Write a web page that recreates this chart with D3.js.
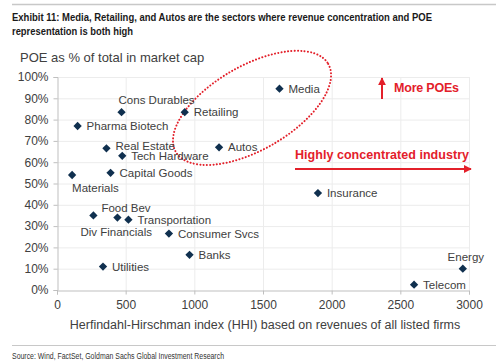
<!DOCTYPE html>
<html>
<head>
<meta charset="utf-8">
<script src="https://cdn.jsdelivr.net/npm/d3@7"></script>
<style>
    body { margin: 0; background: #fff; }
    svg { display: block; }
    .narrow { font-family: "Liberation Sans Narrow", "Arial Narrow", "Liberation Sans", sans-serif; }
    .lbl { font-family: "Liberation Sans", Arial, sans-serif; font-size: 11.5px; fill: #404040; }
</style>
</head>
<body>
<div id="chart"></div>
<script>
// sectors, HHI (x) and POE share in % (y)
const sectors = ['Media', 'Retailing', 'Cons Durables', 'Pharma Biotech', 'Real Estate', 'Tech Hardware', 'Autos',
    'Capital Goods', 'Materials', 'Food Bev', 'Div Financials', 'Transportation', 'Consumer Svcs', 'Banks',
    'Utilities', 'Insurance', 'Energy', 'Telecom'];
const hhi = [1620, 930, 470, 150, 360, 475, 1180, 390, 110, 265, 440, 520, 815, 965, 335, 1900, 2955, 2600];
const poe = [94.5, 83.5, 83.5, 77, 66.5, 63, 67, 55, 54, 35, 34, 33, 26.5, 16.5, 11, 45.5, 10, 2.5];
// where the label sits relative to its marker
const labelSide = ['right', 'right', 'aboveright', 'right', 'rightup', 'right', 'right',
    'right', 'below', 'above', 'belowleft', 'right', 'right', 'right',
    'right', 'right', 'abovecenter', 'right'];

const xTicks = [0, 500, 1000, 1500, 2000, 2500, 3000];
const yTicks = [0, 10, 20, 30, 40, 50, 60, 70, 80, 90, 100];

const W = 500, H = 364;
const RED = '#e3202a', NAVY = '#10304f';

const svg = d3.select('#chart').append('svg').attr('width', W).attr('height', H);

const x = d3.scaleLinear().domain([0, 3000]).range([57, 469]);
const y = d3.scaleLinear().domain([0, 100]).range([290, 77]);

// header
svg.append('line').attr('x1', 12).attr('x2', 496).attr('y1', 4.5).attr('y2', 4.5)
    .attr('stroke', '#c8c8c8').attr('stroke-width', 1.5);
svg.append('text').attr('class', 'narrow')
    .attr('x', 12).attr('y', 21).style('font-size', '11px').style('font-weight', 'bold').attr('fill', '#1a1a1a')
    .attr('textLength', 420).attr('lengthAdjust', 'spacingAndGlyphs')
    .text('Exhibit 11: Media, Retailing, and Autos are the sectors where revenue concentration and POE');
svg.append('text').attr('class', 'narrow')
    .attr('x', 12).attr('y', 35).style('font-size', '11px').style('font-weight', 'bold').attr('fill', '#1a1a1a')
    .attr('textLength', 121).attr('lengthAdjust', 'spacingAndGlyphs')
    .text('representation is both high');

svg.append('text').attr('class', 'lbl').attr('x', 20).attr('y', 62)
    .style('font-size', '13px').text('POE as % of total in market cap');

// grid
svg.append('g').selectAll('line.h').data(yTicks.slice(1)).join('line')
    .attr('x1', x(0)).attr('x2', x(3000)).attr('y1', d => y(d) + .5).attr('y2', d => y(d) + .5)
    .attr('stroke', '#ececec');
svg.append('g').selectAll('line.v').data(xTicks.slice(1)).join('line')
    .attr('y1', y(0)).attr('y2', y(100)).attr('x1', d => x(d) + .5).attr('x2', d => x(d) + .5)
    .attr('stroke', '#ececec');

// axes
const yAxis = svg.append('g').attr('transform', `translate(${x(0) + .5},0)`)
    .call(d3.axisLeft(y).tickValues(yTicks).tickFormat(d => d + '%').tickSize(4).tickPadding(5));
const xAxis = svg.append('g').attr('transform', `translate(0,${y(0) + .5})`)
    .call(d3.axisBottom(x).tickValues(xTicks).tickFormat(d3.format('d')).tickSize(4).tickPadding(6));
[yAxis, xAxis].forEach(a => {
    a.select('.domain').attr('stroke', '#bfbfbf');
    a.selectAll('.tick line').attr('stroke', '#bfbfbf');
    a.selectAll('text').attr('class', 'lbl').style('font-size', '12px').attr('fill', '#404040');
});

svg.append('text').attr('class', 'lbl').attr('x', 265).attr('y', 329).attr('text-anchor', 'middle')
    .style('font-size', '12.5px').text('Herfindahl-Hirschman index (HHI) based on revenues of all listed firms');

// red dotted ellipse around the high-concentration, high-POE sectors
svg.append('ellipse')
    .attr('transform', `translate(${x(1420)},${y(85.5)}) rotate(-30)`)
    .attr('rx', 88).attr('ry', 42)
    .attr('fill', 'none').attr('stroke', RED).attr('stroke-width', 2)
    .attr('stroke-dasharray', '0.1 3.2').attr('stroke-linecap', 'round');

// points
const pts = sectors.map((s, i) => ({ name: s, hx: hhi[i], p: poe[i], side: labelSide[i] }));
svg.append('g').selectAll('path').data(pts).join('path')
    .attr('d', d3.symbol(d3.symbolDiamond2, 44))
    .attr('transform', d => `translate(${x(d.hx)},${y(d.p)})`)
    .attr('fill', NAVY);

const offs = {
    right: [9, 4, 'start'],
    rightup: [9, 2, 'start'],
    aboveright: [-3, -8, 'start'],
    above: [8, -3, 'start'],
    abovecenter: [3, -8, 'middle'],
    below: [0, 17, 'start'],
    belowleft: [-37, 18, 'start']
};
svg.append('g').selectAll('text').data(pts).join('text')
    .attr('class', 'lbl')
    .attr('x', d => x(d.hx) + offs[d.side][0])
    .attr('y', d => y(d.p) + offs[d.side][1])
    .attr('text-anchor', d => offs[d.side][2])
    .text(d => d.name);

// annotations
const defs = svg.append('defs');
defs.append('marker').attr('id', 'ah').attr('viewBox', '0 0 10 10').attr('refX', 9).attr('refY', 5)
    .attr('markerWidth', 4).attr('markerHeight', 4).attr('orient', 'auto')
    .append('path').attr('d', 'M0,0L10,5L0,10z').attr('fill', RED);

svg.append('line').attr('x1', 382).attr('x2', 382).attr('y1', 99).attr('y2', 78)
    .attr('stroke', RED).attr('stroke-width', 2).attr('marker-end', 'url(#ah)');
svg.append('text').attr('x', 394).attr('y', 92)
    .style('font-family', 'Liberation Sans, Arial, sans-serif').style('font-size', '12.5px').style('font-weight', 'bold')
    .attr('fill', RED).attr('textLength', 65).attr('lengthAdjust', 'spacing').text('More POEs');

svg.append('text').attr('x', 295).attr('y', 159)
    .style('font-family', 'Liberation Sans, Arial, sans-serif').style('font-size', '12.5px').style('font-weight', 'bold')
    .attr('fill', RED).attr('textLength', 174).attr('lengthAdjust', 'spacing').text('Highly concentrated industry');
svg.append('line').attr('x1', 295).attr('x2', 471).attr('y1', 169).attr('y2', 169)
    .attr('stroke', RED).attr('stroke-width', 2).attr('marker-end', 'url(#ah)');

// footer
svg.append('line').attr('x1', 12).attr('x2', 496).attr('y1', 345.5).attr('y2', 345.5)
    .attr('stroke', '#c8c8c8').attr('stroke-width', 1);
svg.append('text').attr('class', 'narrow').attr('x', 12).attr('y', 359)
    .style('font-size', '8.5px').attr('fill', '#333')
    .attr('textLength', 212).attr('lengthAdjust', 'spacingAndGlyphs')
    .text('Source: Wind, FactSet, Goldman Sachs Global Investment Research');
</script>
</body>
</html>
